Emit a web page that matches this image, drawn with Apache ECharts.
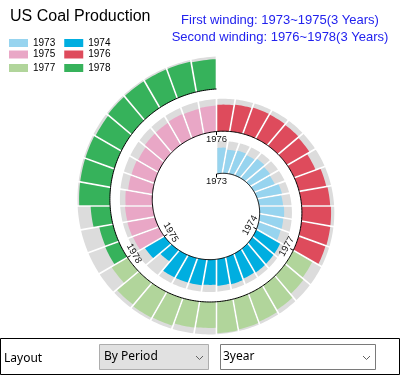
<!DOCTYPE html>
<html>
<head>
<meta charset="utf-8">
<script src="https://cdn.jsdelivr.net/npm/echarts@6/dist/echarts.min.js"></script>
<style>
html,body{margin:0;padding:0;background:#fff;}
#chart{width:404px;height:375px;}
</style>
</head>
<body>
<div id="chart"></div>
<script>
// ---------------- data ----------------
const years = ['1973', '1974', '1975', '1976', '1977', '1978'];
const monthNames = ['Jan','Feb','Mar','Apr','May','Jun','Jul','Aug','Sep','Oct','Nov','Dec'];
// monthly production (million short tons)
const prod1973 = [56.0, 51.8, 53.2, 50.4, 54.6, 50.4, 47.6, 54.6, 51.8, 53.2, 51.8, 50.4];
const prod1974 = [59.5, 59.5, 59.5, 57.4, 59.5, 57.4, 54.6, 56.0, 56.0, 56.0, 31.5, 49.0];
const prod1975 = [59.5, 60.2, 59.5, 58.1, 53.2, 52.5, 50.4, 54.6, 54.6, 56.0, 54.6, 56.0];
const prod1976 = [57.4, 58.8, 60.2, 59.5, 58.1, 56.0, 49.0, 59.5, 61.6, 63.0, 63.0, 61.6];
const prod1977 = [47.6, 51.8, 60.2, 64.4, 66.5, 67.9, 56.0, 57.4, 63.0, 64.4, 61.6, 39.9];
const prod1978 = [31.5, 30.1, 42.0, 66.5, 66.5, 66.5, 64.4, 66.5, 66.5, 66.5, 66.5, 64.4];
const productionByYear = [prod1973, prod1974, prod1975, prod1976, prod1977, prod1978];
const maxProduction = 70;

const subtitleLines = ['First winding: 1973~1975(3 Years)', 'Second winding: 1976~1978(3 Years)'];

// ---------------- style / layout ----------------
const COLORS = ['#97d4ef', '#00aee0', '#e9a7c6', '#de4b5c', '#b1d59b', '#36b25b'];
const GRAY = '#dcdcdc';
const FONT = '"Liberation Sans", Arial, sans-serif';
const UI_FONT = '"Noto Sans", "Open Sans", sans-serif';
const PER_TURN = 36;          // months per winding
const TOTAL = 72;
const R0 = 32;                // spiral start radius (radius-axis units)
const GROWTH = 42.5;          // radius growth per winding
const BAR_LEN = 32.5;         // radial length of a full (max) bar
const GAP = 1.7;              // gap between bars (px)
const LABEL_OFF = 7.5;

function base(m) { return R0 + GROWTH * m / PER_TURN; }
function halfGap(r) { return (GAP / 2) / r * PER_TURN / (2 * Math.PI); }

function barPoints(api, idx, len) {
  const N = 8;
  const startA = idx % PER_TURN;
  const inner = [], outer = [];
  const a0 = halfGap(base(idx)), a1 = 1 - halfGap(base(idx + 1));
  const b0 = halfGap(base(idx) + len), b1 = 1 - halfGap(base(idx + 1) + len);
  for (let k = 0; k <= N; k++) {
    const ti = a0 + (a1 - a0) * k / N;
    const to = b0 + (b1 - b0) * k / N;
    inner.push(api.coord([base(idx + ti), startA + ti]));
    outer.push(api.coord([base(idx + to) + len, startA + to]));
  }
  return inner.concat(outer.reverse());
}

function barRender(params, api) {
  const idx = api.value(0);
  const val = api.value(1);
  const len = val / maxProduction * BAR_LEN;
  return {
    type: 'group',
    children: [
      { type: 'polygon', shape: { points: barPoints(api, idx, BAR_LEN) }, style: { fill: GRAY } },
      { type: 'polygon', shape: { points: barPoints(api, idx, len) }, style: { fill: api.visual('color') } }
    ]
  };
}

function spiralRender(params, api) {
  const pts = [];
  for (let k = 0; k <= TOTAL * 10; k++) {
    const m = k / 10;
    pts.push(api.coord([base(m), m % PER_TURN]));
  }
  const children = [{
    type: 'polyline', shape: { points: pts },
    style: { stroke: '#000', lineWidth: 1, fill: null }
  }];
  years.forEach((y, yi) => {
    const m = yi * 12;
    const a = m % PER_TURN;
    const r = base(m);
    const p0 = api.coord([r, a]);
    const p1 = api.coord([r - 3.5, a]);
    children.push({ type: 'line', shape: { x1: p0[0], y1: p0[1], x2: p1[0], y2: p1[1] }, style: { stroke: '#000', lineWidth: 1 } });
    const pl = api.coord([r - LABEL_OFF, a]);
    let rot = 180 - a / PER_TURN * 360;
    while (rot > 180) rot -= 360;
    while (rot <= -180) rot += 360;
    if (rot > 90) rot -= 180;
    if (rot < -90) rot += 180;
    children.push({
      type: 'text', x: pl[0], y: pl[1], rotation: rot * Math.PI / 180,
      style: { text: y, font: '9.5px ' + FONT, fill: '#111', align: 'center', verticalAlign: 'middle' }
    });
  });
  return { type: 'group', children };
}

const legendCommon = {
  orient: 'horizontal', left: 9, itemWidth: 19, itemHeight: 8, itemGap: 9, padding: 0,
  icon: 'rect', selectedMode: false,
  textStyle: { fontSize: 10, fontFamily: FONT, color: '#000', lineHeight: 12 }
};

const series = years.map((y, yi) => ({
  type: 'custom',
  name: y,
  coordinateSystem: 'polar',
  itemStyle: { color: COLORS[yi] },
  data: productionByYear[yi].map((v, mi) => ({ name: monthNames[mi] + ' ' + y, value: [yi * 12 + mi, v] })),
  renderItem: barRender,
  z: 2
}));
series.push({
  type: 'custom', coordinateSystem: 'polar', data: [[0, 0]], renderItem: spiralRender, z: 3, silent: true
});

const option = {
  animation: false,
  backgroundColor: '#fff',
  polar: { center: [216.5, 206], radius: [0, 160] },
  angleAxis: { type: 'value', min: 0, max: PER_TURN, startAngle: 90, clockwise: true, show: false },
  radiusAxis: { type: 'value', min: 0, max: 160, show: false },
  legend: [
    Object.assign({}, legendCommon, { data: [years[0], years[1]], top: 37 }),
    Object.assign({}, legendCommon, { data: [years[2], years[3]], top: 48.5 }),
    Object.assign({}, legendCommon, { data: [years[4], years[5]], top: 62 })
  ],
  graphic: [
    { type: 'text', x: 10, y: 17, style: { text: 'US Coal Production', font: '16px ' + FONT, fill: '#000', verticalAlign: 'middle' } },
    { type: 'text', x: 280, y: 20, style: { text: subtitleLines[0], font: '13px ' + FONT, fill: '#2222ee', align: 'center', verticalAlign: 'middle' } },
    { type: 'text', x: 280, y: 37.5, style: { text: subtitleLines[1], font: '13px ' + FONT, fill: '#2222ee', align: 'center', verticalAlign: 'middle' } },
    // control bar
    { type: 'rect', shape: { x: 0.5, y: 338.5, width: 399, height: 36 }, style: { fill: '#fff', stroke: '#000', lineWidth: 1 } },
    { type: 'text', x: 4, y: 359, style: { text: 'Layout', font: '12px ' + UI_FONT, fill: '#000', verticalAlign: 'middle' } },
    { type: 'rect', shape: { x: 99.5, y: 344.5, width: 109, height: 25 }, style: { fill: '#e1e1e1', stroke: '#adadad', lineWidth: 1 } },
    { type: 'text', x: 104, y: 357, style: { text: 'By Period', font: '12px ' + UI_FONT, fill: '#000', verticalAlign: 'middle' } },
    { type: 'polyline', shape: { points: [[196, 356], [199.5, 359.5], [203, 356]] }, style: { stroke: '#606060', lineWidth: 1, fill: null } },
    { type: 'rect', shape: { x: 220.5, y: 344.5, width: 155, height: 25 }, style: { fill: '#fff', stroke: '#7a7a7a', lineWidth: 1 } },
    { type: 'text', x: 223, y: 357, style: { text: '3year', font: '12px ' + UI_FONT, fill: '#000', verticalAlign: 'middle' } },
    { type: 'polyline', shape: { points: [[363, 356], [366.5, 359.5], [370, 356]] }, style: { stroke: '#606060', lineWidth: 1, fill: null } }
  ],
  series: series
};

const chart = echarts.init(document.getElementById('chart'), null, { renderer: 'canvas' });
chart.setOption(option);
</script>
</body>
</html>
